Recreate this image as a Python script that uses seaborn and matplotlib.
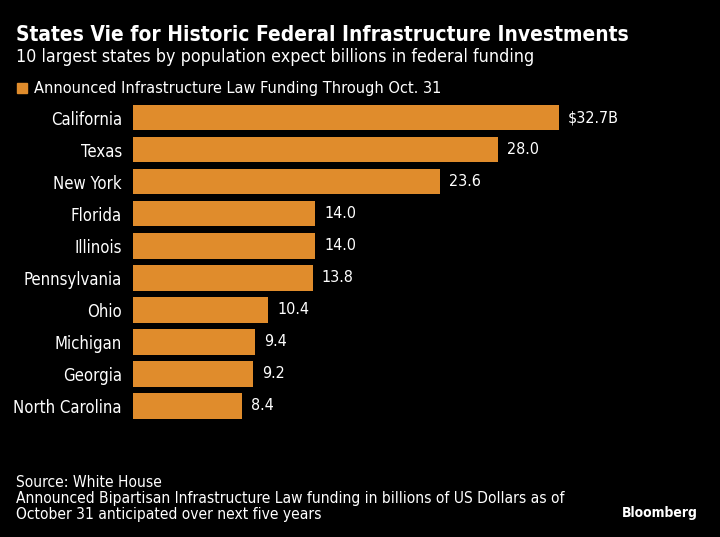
import pandas as pd
import matplotlib.pyplot as plt
import seaborn as sns

states = ["California", "Texas", "New York", "Florida", "Illinois",
          "Pennsylvania", "Ohio", "Michigan", "Georgia", "North Carolina"]
funding = [32.7, 28.0, 23.6, 14.0, 14.0, 13.8, 10.4, 9.4, 9.2, 8.4]
value_labels = ["$32.7B"] + [f"{v:.1f}" for v in funding[1:]]

bar_color = "#E08C2C"
bg = "#000000"
fg = "#FFFFFF"

sns.set_style("dark")
plt.rcParams['font.family'] = ['DejaVu Sans']
plt.rcParams['font.stretch'] = 'condensed'

df = pd.DataFrame({"state": states, "funding": funding})

fig = plt.figure(figsize=(7.2, 5.37), dpi=100, facecolor=bg)
ax = fig.add_axes([133 / 720, 1 - 422 / 537, (654 - 133) / 720, (422 - 101.5) / 537])
ax.set_facecolor(bg)

sns.barplot(data=df, x="funding", y="state", color=bar_color, width=0.8,
            saturation=1, linewidth=0, ax=ax)
ax.set_xlim(0, 40)
ax.set_ylim(9.5, -0.5)

ax.bar_label(ax.containers[0], labels=value_labels, padding=6.5,
             color=fg, fontsize=11.5)

ax.set_xlabel("")
ax.set_ylabel("")
ax.set_xticks([])
ax.tick_params(axis="y", length=0, pad=8, labelsize=12, labelcolor=fg)
ax.grid(False)
for s in ax.spines.values():
    s.set_visible(False)

# title block
fig.text(16 / 720, 1 - 41 / 537, "States Vie for Historic Federal Infrastructure Investments",
         color=fg, fontsize=15, fontweight="bold", va="baseline")
fig.text(16 / 720, 1 - 62 / 537, "10 largest states by population expect billions in federal funding",
         color=fg, fontsize=12.8, va="baseline")

# legend
fig.patches.append(plt.Rectangle((17 / 720, 1 - 93 / 537), 10 / 720, 10 / 537,
                                 transform=fig.transFigure, color=bar_color))
fig.text(34 / 720, 1 - 88 / 537, "Announced Infrastructure Law Funding Through Oct. 31",
         color=fg, fontsize=11.7, va="center")

# footer
footer = ["Source: White House",
          "Announced Bipartisan Infrastructure Law funding in billions of US Dollars as of",
          "October 31 anticipated over next five years"]
for i, line in enumerate(footer):
    fig.text(16 / 720, 1 - (487 + i * 16) / 537, line, color=fg, fontsize=11.2, va="baseline")

fig.text(698 / 720, 1 - 517 / 537, "Bloomberg", color=fg, fontsize=10,
         fontweight="bold", ha="right", va="baseline")

fig.savefig("out.png", dpi=100, facecolor=bg)
